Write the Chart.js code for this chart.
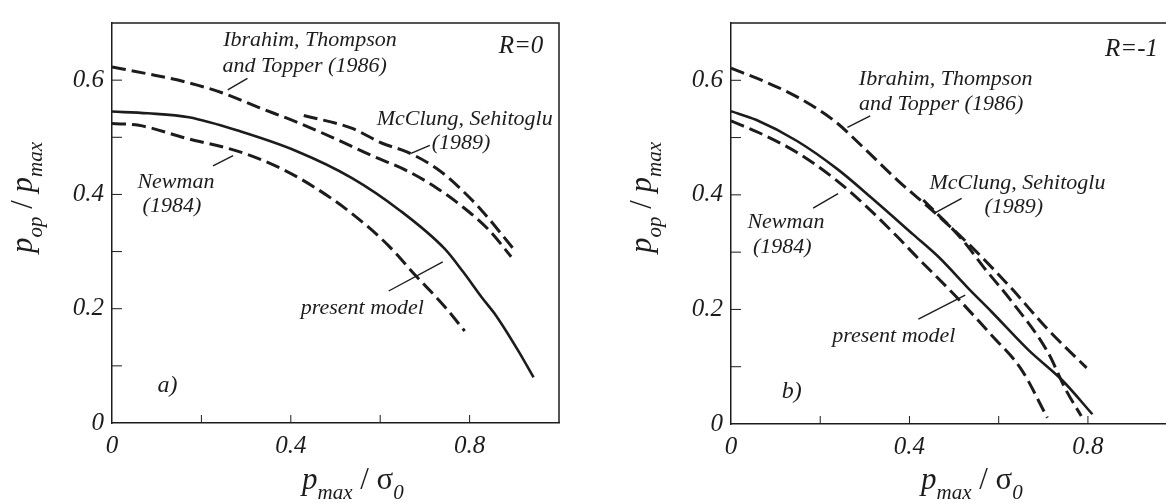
<!DOCTYPE html>
<html>
<head>
<meta charset="utf-8">
<script src="https://cdn.jsdelivr.net/npm/chart.js@4"></script>
<style>
  html, body { margin: 0; padding: 0; background: #fff; }
  #wrap { position: relative; width: 1166px; height: 504px; }
  canvas { position: absolute; top: 0; }
</style>
</head>
<body>
<div id="wrap">
  <canvas id="chartA" width="583" height="504" style="left:0"></canvas>
  <canvas id="chartB" width="583" height="504" style="left:583px"></canvas>
</div>
<script>
const ink = "#1c1c1c";
const serif = "'Liberation Serif', 'Times New Roman', serif";

// tick labels and tick marks
const xLabels = [0, 0.4, 0.8];
const yLabels = [0, 0.2, 0.4, 0.6];
const xMarks = [0.2, 0.4, 0.6, 0.8];
const yMarks = [0.1, 0.2, 0.3, 0.4, 0.5, 0.6];

// a) R=0
const ibrahimAx = [0, 0.08, 0.163, 0.246, 0.329, 0.412, 0.495, 0.578, 0.661, 0.727, 0.785, 0.843, 0.893];
const ibrahimAy = [0.623, 0.611, 0.597, 0.578, 0.552, 0.527, 0.499, 0.469, 0.441, 0.411, 0.378, 0.338, 0.291];
const mcclungAx = [0.429, 0.536, 0.603, 0.661, 0.727, 0.777, 0.827, 0.901];
const mcclungAy = [0.538, 0.516, 0.490, 0.474, 0.445, 0.412, 0.372, 0.302];
const presentAx = [0, 0.08, 0.172, 0.288, 0.412, 0.536, 0.644, 0.744, 0.785, 0.827, 0.86, 0.91, 0.943];
const presentAy = [0.545, 0.542, 0.535, 0.51, 0.476, 0.429, 0.372, 0.305, 0.265, 0.22, 0.187, 0.125, 0.08];
const newmanAx = [0, 0.06, 0.163, 0.288, 0.379, 0.454, 0.536, 0.619, 0.677, 0.744, 0.789];
const newmanAy = [0.524, 0.521, 0.499, 0.474, 0.445, 0.412, 0.367, 0.31, 0.26, 0.204, 0.161];

// b) R=-1
const ibrahimBx = [0, 0.081, 0.148, 0.232, 0.299, 0.374, 0.458, 0.542, 0.626, 0.709, 0.797];
const ibrahimBy = [0.621, 0.596, 0.571, 0.529, 0.481, 0.425, 0.368, 0.307, 0.239, 0.166, 0.098];
const mcclungBx = [0.431, 0.517, 0.567, 0.626, 0.709, 0.751, 0.785];
const mcclungBy = [0.391, 0.323, 0.273, 0.217, 0.127, 0.059, 0.014];
const presentBx = [0, 0.056, 0.148, 0.24, 0.316, 0.408, 0.466, 0.533, 0.584, 0.667, 0.743, 0.81];
const presentBy = [0.546, 0.531, 0.494, 0.444, 0.394, 0.331, 0.291, 0.236, 0.196, 0.129, 0.076, 0.017];
const newmanBx = [0, 0.064, 0.148, 0.232, 0.299, 0.374, 0.416, 0.5, 0.584, 0.651, 0.709];
const newmanBy = [0.529, 0.508, 0.474, 0.428, 0.383, 0.326, 0.292, 0.226, 0.155, 0.095, 0.011];

function pts(xs, ys) {
  return xs.map((x, i) => ({ x: x, y: ys[i] }));
}

function curve(label, xs, ys, dashed) {
  return {
    label: label,
    data: pts(xs, ys),
    showLine: true,
    pointRadius: 0,
    borderColor: ink,
    borderWidth: dashed ? 3 : 2.6,
    borderDash: dashed ? [14, 6] : [],
    cubicInterpolationMode: "monotone",
    fill: false,
  };
}

function fmt(value, list) {
  const hit = list.find((t) => Math.abs(t - value) < 1e-6);
  if (hit === undefined) return "";
  return hit === 0 ? "0" : String(hit);
}

// text pieces: [text, subscript?, upright?]
function drawPieces(ctx, x, y, pieces) {
  let cx = x;
  pieces.forEach((p) => {
    const sub = p[1];
    ctx.font = (p[2] ? "" : "italic ") + (sub ? 21 : 31) + "px " + serif;
    ctx.fillText(p[0], cx, sub ? y + 10 : y);
    cx += ctx.measureText(p[0]).width;
  });
}

const decor = {
  id: "decor",
  afterDraw(chart, args, opts) {
    const { ctx, chartArea: a } = chart;
    const xs = chart.scales.x;
    const ys = chart.scales.y;
    ctx.save();
    ctx.strokeStyle = ink;
    ctx.fillStyle = ink;

    // frame top (and right)
    ctx.lineWidth = 1.5;
    ctx.beginPath();
    ctx.moveTo(a.left, a.top);
    ctx.lineTo(a.right, a.top);
    if (opts.rightEdge) ctx.lineTo(a.right, a.bottom);
    ctx.stroke();

    // inward tick marks
    ctx.lineWidth = 1;
    xMarks.forEach((v) => {
      const px = xs.getPixelForValue(v);
      ctx.beginPath();
      ctx.moveTo(px, a.bottom);
      ctx.lineTo(px, a.bottom - 8);
      ctx.stroke();
    });
    yMarks.forEach((v) => {
      const py = ys.getPixelForValue(v);
      ctx.beginPath();
      ctx.moveTo(a.left, py);
      ctx.lineTo(a.left + 10, py);
      ctx.stroke();
    });

    // leader lines
    ctx.lineWidth = 1.4;
    opts.leaders.forEach((l) => {
      ctx.beginPath();
      ctx.moveTo(xs.getPixelForValue(l[0]), ys.getPixelForValue(l[1]));
      ctx.lineTo(xs.getPixelForValue(l[2]), ys.getPixelForValue(l[3]));
      ctx.stroke();
    });

    // notes
    ctx.textBaseline = "alphabetic";
    opts.notes.forEach((n) => {
      ctx.font = "italic " + (n.size || 22) + "px " + serif;
      ctx.textAlign = n.align || "center";
      ctx.fillText(n.text, xs.getPixelForValue(n.x), ys.getPixelForValue(n.y));
    });

    // axis titles
    ctx.textAlign = "left";
    drawPieces(ctx, a.left + 190, 489, [["p"], ["max", true], [" / ", false, true], ["σ", false, true], ["0", true]]);
    ctx.translate(a.left - 80, 253);
    ctx.rotate(-Math.PI / 2);
    drawPieces(ctx, 0, 0, [["p"], ["op", true], [" / ", false, true], ["p"], ["max", true]]);
    ctx.restore();
  },
};

function options(xMax, yWidth, bottom, padRight, notes, leaders, rightEdge) {
  const tickFont = { family: serif, size: 25, style: "italic" };
  return {
    responsive: false,
    animation: false,
    layout: { padding: { top: 11, right: padRight, bottom: 0, left: 0 } },
    plugins: {
      legend: { display: false },
      tooltip: { enabled: false },
      decor: { notes: notes, leaders: leaders, rightEdge: rightEdge },
    },
    scales: {
      x: {
        type: "linear",
        min: 0,
        max: xMax,
        afterFit: (s) => { s.height = 504 - bottom; },
        grid: { display: false, drawTicks: false },
        border: { display: true, color: ink, width: 1.5 },
        ticks: {
          stepSize: 0.2,
          includeBounds: false,
          autoSkip: false,
          maxRotation: 0,
          padding: 8,
          color: ink,
          font: tickFont,
          callback: (v) => fmt(v, xLabels),
        },
      },
      y: {
        type: "linear",
        min: 0,
        max: 0.7,
        afterFit: (s) => { s.width = yWidth; },
        grid: { display: false, drawTicks: false },
        border: { display: true, color: ink, width: 1.5 },
        ticks: {
          stepSize: 0.1,
          autoSkip: false,
          padding: 8,
          color: ink,
          font: tickFont,
          callback: (v) => fmt(v, yLabels),
        },
      },
    },
  };
}

const chartA = document.getElementById("chartA");
new Chart(chartA, {
  type: "scatter",
  data: {
    datasets: [
      curve("Ibrahim, Thompson and Topper (1986)", ibrahimAx, ibrahimAy, true),
      curve("McClung, Sehitoglu (1989)", mcclungAx, mcclungAy, true),
      curve("present model", presentAx, presentAy, false),
      curve("Newman (1984)", newmanAx, newmanAy, true),
    ],
  },
  options: options(
    1.0, 112, 423, 24,
    [
      { text: "Ibrahim, Thompson", x: 0.443, y: 0.659 },
      { text: "and Topper (1986)", x: 0.431, y: 0.614 },
      { text: "McClung, Sehitoglu", x: 0.789, y: 0.521 },
      { text: "(1989)", x: 0.781, y: 0.479 },
      { text: "Newman", x: 0.143, y: 0.412 },
      { text: "(1984)", x: 0.134, y: 0.37 },
      { text: "present model", x: 0.56, y: 0.19 },
      { text: "a)", x: 0.124, y: 0.055, size: 24 },
      { text: "R=0", x: 0.965, y: 0.647, size: 25, align: "right" },
    ],
    [
      [0.259, 0.583, 0.303, 0.603],
      [0.669, 0.472, 0.711, 0.486],
      [0.226, 0.45, 0.271, 0.468],
      [0.619, 0.231, 0.74, 0.282],
    ],
    true
  ),
  plugins: [decor],
});

const chartB = document.getElementById("chartB");
new Chart(chartB, {
  type: "scatter",
  data: {
    datasets: [
      curve("Ibrahim, Thompson and Topper (1986)", ibrahimBx, ibrahimBy, true),
      curve("McClung, Sehitoglu (1989)", mcclungBx, mcclungBy, true),
      curve("present model", presentBx, presentBy, false),
      curve("Newman (1984)", newmanBx, newmanBy, true),
    ],
  },
  options: options(
    0.975, 148, 424, 0,
    [
      { text: "Ibrahim, Thompson", x: 0.481, y: 0.591 },
      { text: "and Topper (1986)", x: 0.471, y: 0.548 },
      { text: "McClung, Sehitoglu", x: 0.642, y: 0.411 },
      { text: "(1989)", x: 0.634, y: 0.368 },
      { text: "Newman", x: 0.123, y: 0.343 },
      { text: "(1984)", x: 0.115, y: 0.298 },
      { text: "present model", x: 0.365, y: 0.143 },
      { text: "b)", x: 0.136, y: 0.045, size: 24 },
      { text: "R=-1", x: 0.957, y: 0.642, size: 25, align: "right" },
    ],
    [
      [0.261, 0.518, 0.312, 0.538],
      [0.456, 0.368, 0.517, 0.394],
      [0.184, 0.377, 0.24, 0.402],
      [0.42, 0.183, 0.525, 0.225],
    ],
    false
  ),
  plugins: [decor],
});
</script>
</body>
</html>
